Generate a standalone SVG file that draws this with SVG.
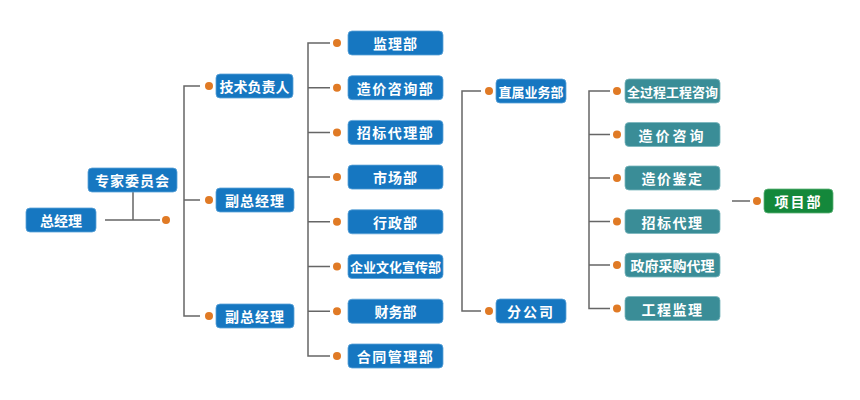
<svg xmlns="http://www.w3.org/2000/svg" width="860" height="400" viewBox="0 0 860 400">
<style>
.b{fill:#1677c1;stroke:#5aa2d8;stroke-width:0.8}
.t{fill:#3a8d97;stroke:#7ab6bd;stroke-width:0.8}
.g{fill:#14883b;stroke:#5fb47a;stroke-width:0.8}
text{font-family:"Noto Sans CJK SC","Noto Sans",sans-serif;font-weight:bold;font-size:14px;fill:#fff;text-anchor:middle;dominant-baseline:central}
.s{font-size:13px}
.c line,.c path{stroke:#666;stroke-width:1.5;fill:none}
.c circle{fill:#e07a25}
</style>
<rect width="860" height="400" fill="#fff"/>
<g class="c" id="connectors">
<path d="M105 220H160M133 192V220"/><circle cx="166" cy="220" r="4"/>
<path d="M200 86H184V316H200M184 200H200"/>
<circle cx="209" cy="86" r="4"/><circle cx="209" cy="200" r="4"/><circle cx="209" cy="316" r="4"/>
<path d="M330 43H308V356H330M308 87.7H330M308 132.4H330M308 177.1H330M308 221.8H330M308 266.5H330M308 311.2H330"/>
<circle cx="337" cy="43" r="4"/><circle cx="337" cy="87.7" r="4"/><circle cx="337" cy="132.4" r="4"/><circle cx="337" cy="177.1" r="4"/><circle cx="337" cy="221.8" r="4"/><circle cx="337" cy="266.5" r="4"/><circle cx="337" cy="311.2" r="4"/><circle cx="337" cy="356" r="4"/>
<path d="M481 91H462V311H481"/>
<circle cx="489" cy="91" r="4"/><circle cx="489" cy="311" r="4"/>
<path d="M610 91H589V308.5H610M589 134.5H610M589 178H610M589 221.5H610M589 265H610"/>
<circle cx="617" cy="91" r="4"/><circle cx="617" cy="134.5" r="4"/><circle cx="617" cy="178" r="4"/><circle cx="617" cy="221.5" r="4"/><circle cx="617" cy="265" r="4"/><circle cx="617" cy="308.5" r="4"/>
<path d="M732 201H750"/><circle cx="757" cy="201" r="4"/>
</g>
<g id="n-zjl"><rect class="b" x="26" y="208" width="70" height="24" rx="4"/><text x="61" y="220">总经理</text></g>
<g id="n-zjwyh"><rect class="b" x="88" y="168" width="89" height="24" rx="4"/><text x="132.5" y="180" letter-spacing="1">专家委员会</text></g>
<g id="n-jsfzr"><rect class="b" x="216" y="74" width="77" height="24" rx="4"/><text x="254.5" y="86">技术负责人</text></g>
<g id="n-fzjl1"><rect class="b" x="216" y="188" width="78" height="24" rx="4"/><text x="255" y="200" letter-spacing="1">副总经理</text></g>
<g id="n-fzjl2"><rect class="b" x="216" y="304" width="78" height="24" rx="4"/><text x="255" y="316" letter-spacing="1">副总经理</text></g>
<g id="n-jlb"><rect class="b" x="348" y="31" width="95" height="24" rx="4"/><text x="395.5" y="43" letter-spacing="1">监理部</text></g>
<g id="n-zjzxb"><rect class="b" x="348" y="75.7" width="95" height="24" rx="4"/><text x="395.5" y="87.7" letter-spacing="1.5">造价咨询部</text></g>
<g id="n-zbdlb"><rect class="b" x="348" y="120.4" width="95" height="24" rx="4"/><text x="395.5" y="132.4" letter-spacing="1.5">招标代理部</text></g>
<g id="n-scb"><rect class="b" x="348" y="165.1" width="95" height="24" rx="4"/><text x="395.5" y="177.1" letter-spacing="1">市场部</text></g>
<g id="n-xzb"><rect class="b" x="348" y="209.8" width="95" height="24" rx="4"/><text x="395.5" y="221.8" letter-spacing="1">行政部</text></g>
<g id="n-qywh"><rect class="b" x="348" y="254.5" width="95" height="24" rx="4"/><text class="s" x="395.5" y="266.5">企业文化宣传部</text></g>
<g id="n-cwb"><rect class="b" x="348" y="299.2" width="95" height="24" rx="4"/><text x="395.5" y="311.2">财务部</text></g>
<g id="n-htglb"><rect class="b" x="348" y="344" width="95" height="24" rx="4"/><text x="395.5" y="356" letter-spacing="1.5">合同管理部</text></g>
<g id="n-zsywb"><rect class="b" x="496" y="79" width="70" height="24" rx="4"/><text class="s" x="531" y="91">直属业务部</text></g>
<g id="n-fgs"><rect class="b" x="496" y="299" width="70" height="24" rx="4"/><text x="531" y="311" letter-spacing="2">分公司</text></g>
<g id="n-qgc"><rect class="t" x="625" y="79" width="95" height="24" rx="4"/><text class="s" x="672.5" y="91">全过程工程咨询</text></g>
<g id="n-zjzx"><rect class="t" x="625" y="122.5" width="95" height="24" rx="4"/><text x="672.5" y="134.5" letter-spacing="3">造价咨询</text></g>
<g id="n-zjjd"><rect class="t" x="625" y="166" width="95" height="24" rx="4"/><text x="672.5" y="178" letter-spacing="1.5">造价鉴定</text></g>
<g id="n-zbdl"><rect class="t" x="625" y="209.5" width="95" height="24" rx="4"/><text x="672.5" y="221.5" letter-spacing="1.5">招标代理</text></g>
<g id="n-zfcg"><rect class="t" x="625" y="253" width="95" height="24" rx="4"/><text x="672.5" y="265">政府采购代理</text></g>
<g id="n-gcjl"><rect class="t" x="625" y="296.5" width="95" height="24" rx="4"/><text x="672.5" y="308.5" letter-spacing="1.5">工程监理</text></g>
<g id="n-xmb"><rect class="g" x="764" y="189" width="69" height="24" rx="4"/><text x="798.5" y="201" letter-spacing="2">项目部</text></g>
</svg>
